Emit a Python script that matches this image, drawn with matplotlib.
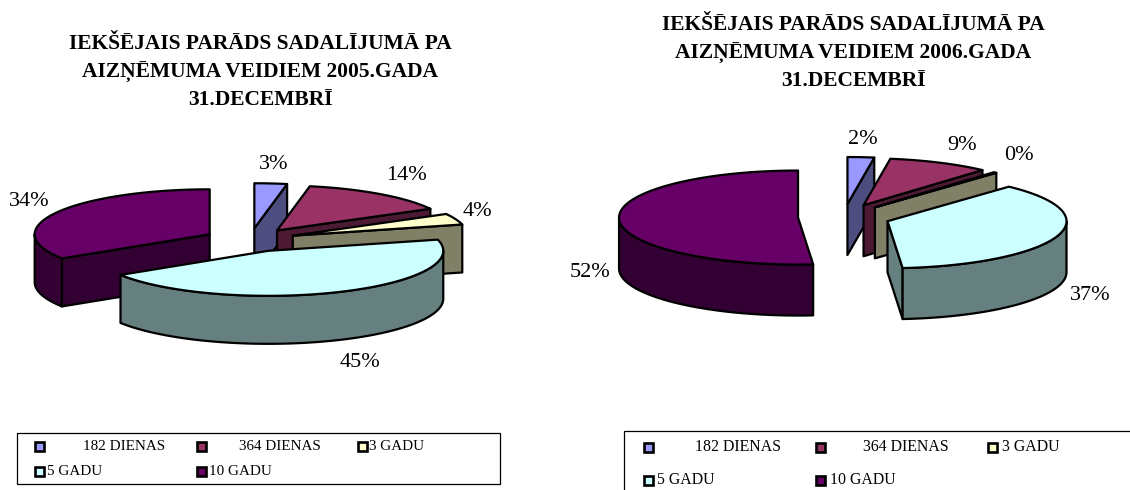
import numpy as np
from matplotlib import pyplot as plt
from matplotlib.patches import Polygon, Rectangle

plt.rcParams['font.family'] = ['Liberation Serif', 'DejaVu Serif']

# data
categories = ['182 DIENAS', '364 DIENAS', '3 GADU', '5 GADU', '10 GADU']
shares_2005 = [3, 14, 4, 45, 34]
shares_2006 = [2.4, 9.2, 0.3, 36.9, 51.5]
title_2005 = ['IEKŠĒJAIS PARĀDS SADALĪJUMĀ PA', 'AIZŅĒMUMA VEIDIEM 2005.GADA', '31.DECEMBRĪ']
title_2006 = ['IEKŠĒJAIS PARĀDS SADALĪJUMĀ PA', 'AIZŅĒMUMA VEIDIEM 2006.GADA', '31.DECEMBRĪ']

# colours
top_colors = ['#9999FF', '#993366', '#FFFFCC', '#CCFFFF', '#660066']
side_colors = ['#4D4D80', '#4D1A33', '#808066', '#668080', '#330033']

W, H = 1130, 490
fig = plt.figure(figsize=(W / 100, H / 100), dpi=100)
ax = fig.add_axes([0, 0, 1, 1])
ax.set_xlim(0, W)
ax.set_ylim(H, 0)
ax.axis('off')


def pt(a, th, rx, ry):
    r = np.radians(th)
    return np.column_stack([a[0] + rx * np.sin(r), a[1] - ry * np.cos(r)])


def face(points, color):
    ax.add_patch(Polygon(points, closed=True, facecolor=color, edgecolor='black',
                         linewidth=1.6, joinstyle='round'))


def pie3d(values, cx, cy, rx, ry, depth, ex, ey):
    total = sum(values)
    edges = np.concatenate([[0], np.cumsum(values)]) / total * 360
    down = np.array([0, depth])
    # 10 GADU first, it lies behind everything else
    for i in [4, 0, 1, 2, 3]:
        t1, t2 = edges[i], edges[i + 1]
        mid = np.radians((t1 + t2) / 2)
        a = (cx + ex * np.sin(mid), cy - ey * np.cos(mid))
        p1 = pt(a, t1, rx, ry)[0]
        p2 = pt(a, t2, rx, ry)[0]
        apex = np.array(a)
        if 180 < t1 < 360:
            face([apex, p1, p1 + down, apex + down], side_colors[i])
        if 0 < t2 < 180:
            face([apex, p2, p2 + down, apex + down], side_colors[i])
        lo, hi = max(t1, 90), min(t2, 270)
        if hi > lo:
            arc = pt(a, np.linspace(lo, hi, 60), rx, ry)
            face(np.vstack([arc, arc[::-1] + down]), side_colors[i])
        top = pt(a, np.linspace(t1, t2, 120), rx, ry)
        face(np.vstack([apex, top]), top_colors[i])


def title(lines, x, y0):
    for k, line in enumerate(lines):
        ax.text(x, y0 + k * 28, line, ha='center', va='center', fontsize=15.5, fontweight='bold')


def value_labels(values, positions):
    for v, (x, y) in zip(values, positions):
        ax.text(x, y, f'{v:.0f}%', ha='center', va='center', fontsize=16)


def legend(box, rows, swatch_x, text_x, size):
    ax.add_patch(Rectangle(box[:2], box[2], box[3], facecolor='white', edgecolor='black', linewidth=0.9))
    for i, name in enumerate(categories):
        row, col = (0, i) if i < 3 else (1, i - 3)
        sx = swatch_x[col]
        ax.add_patch(Rectangle((sx - 4.5, rows[row] - 4.5), 9, 9, facecolor=top_colors[i],
                               edgecolor='black', linewidth=1.9))
        ax.text(text_x[i], rows[row], name, ha='left', va='center', fontsize=size)


title(title_2005, 260.5, 44)
pie3d(shares_2005, 250, 240, 175, 45, 48, 46, 11.8)
value_labels(shares_2005, [(274, 164), (406, 175), (477, 211), (360, 362), (29, 201)])
legend((17, 433, 483, 51), [446, 471], [39, 201, 362], [83, 239, 369, 47, 209], 10.9)

title(title_2006, 853, 25)
pie3d(shares_2006, 844, 217, 179, 47, 51, 46, 13)
value_labels(shares_2006, [(863, 139), (962, 145), (1019, 155), (1090, 295), (590, 272)])
legend((624, 431, 520, 70), [447, 480], [648, 820, 992], [695, 863, 1002, 657, 830], 11.4)

fig.savefig('out.png', dpi=100)
